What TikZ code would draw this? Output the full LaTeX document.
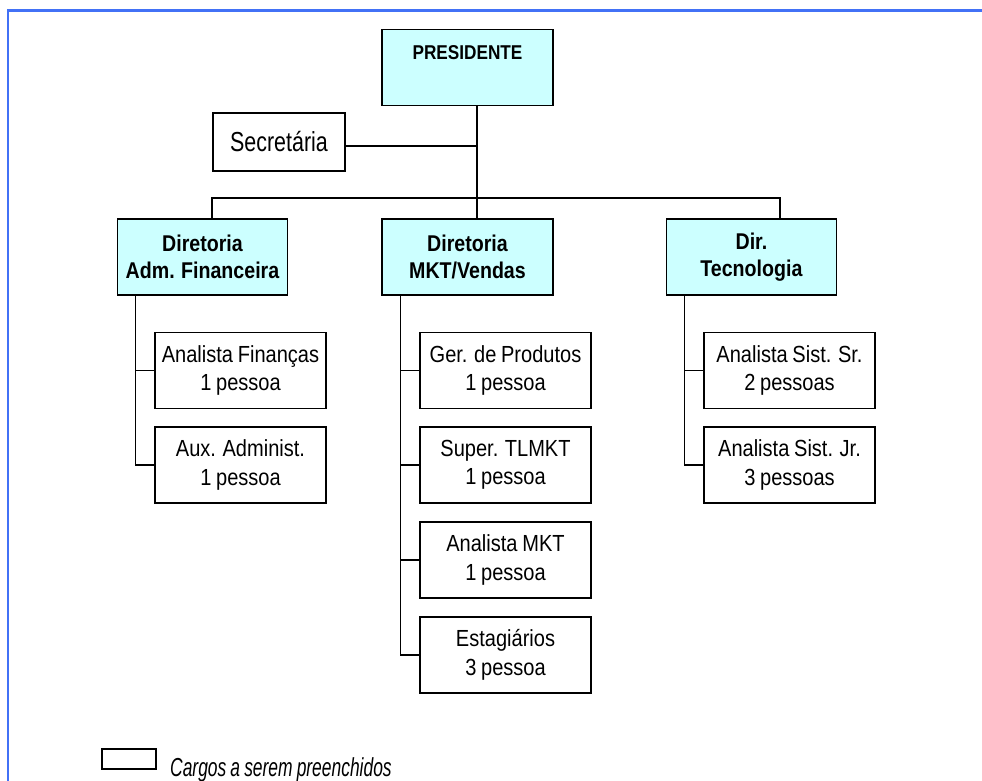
\documentclass[tikz,border=0pt]{standalone}
\usepackage{fontspec}
\setmainfont{Liberation Sans}[FakeStretch=0.86, WordSpace=0.85]
\newfontfamily\secfont{Liberation Sans}[FakeStretch=0.78, WordSpace=0.85]
\newfontfamily\legfont{Liberation Sans}[FakeStretch=0.67, WordSpace=0.85]
\usetikzlibrary{calc}
\definecolor{cyanfill}{RGB}{204,255,255}
\definecolor{frameblue}{RGB}{66,113,246}
\tikzset{
  dirbox/.style={draw, line width=1.5pt, fill=cyanfill, minimum width=171pt, minimum height=76pt,
    inner sep=0pt, align=center, font=\fontsize{22.8}{27.6}\selectfont\bfseries},
  subbox/.style={draw, line width=1.2pt, fill=white, minimum width=171pt, minimum height=76pt,
    inner sep=0pt, align=center, font=\fontsize{23.3}{28.4}\selectfont},
  conn/.style={line width=1.2pt},
}
\begin{document}
\begin{tikzpicture}[x=1pt,y=-1pt]
\useasboundingbox (0,0) rectangle (982,780);
\clip (0,0) rectangle (982,780);
% frame
\draw[frameblue, line width=2.5pt] (7.8,790) -- (7.8,10.5) -- (990,10.5);
% top
\node[dirbox, minimum height=76.4pt,
  label={[anchor=north, yshift=-13pt, font=\fontsize{20}{24}\selectfont\bfseries]north:PRESIDENTE}]
  (pres) at (467.5,67.5) {};
\node[subbox, minimum width=132pt, minimum height=58pt, font=\fontsize{27.5}{32}\secfont] (sec) at (279,142) {Secret\'aria};
% directors
\node[dirbox, minimum width=170pt] (dir1) at (202.5,257) {Diretoria\\Adm. Financeira};
\node[dirbox] (dir2) at (467.5,257) {Diretoria\\MKT/Vendas};
\node[dirbox, minimum width=170pt] (dir3) at (751.4,257) {Dir.\\Tecnologia};
% subs left
\node[subbox] (af) at (240.5,370.5) {Analista Finan\c{c}as\\1 pessoa};
\node[subbox] (aux) at (240.5,465) {Aux. Administ.\\1 pessoa};
% subs middle
\node[subbox] (ger) at (505.5,370.5) {Ger. de Produtos\\1 pessoa};
\node[subbox] (sup) at (505.5,465) {Super. TLMKT\\1 pessoa};
\node[subbox] (amkt) at (505.5,560) {Analista MKT\\1 pessoa};
\node[subbox] (est) at (505.5,655) {Estagi\'arios\\3 pessoa};
% subs right
\node[subbox] (ass) at (789.5,370.5) {Analista Sist. Sr.\\2 pessoas};
\node[subbox] (asj) at (789.5,465) {Analista Sist. Jr.\\3 pessoas};
% connectors top
\coordinate (bus) at (477,198);
\coordinate (busL) at (212,198);
\coordinate (busR) at (780,198);
\draw[conn] (pres.south -| bus) -- (bus);
\draw[conn] ($(sec.east)+(0,4)$) -- ($(sec.east -| bus)+(0,4)$);
\draw[conn] (busL |- dir1.north) -- (busL) -- (busR) -- (busR |- dir3.north);
\draw[conn] (bus) -- (bus |- dir2.north);
% trunks
\coordinate (t1) at ($(dir1.south west)+(18.5,0)$);
\coordinate (t2) at ($(dir2.south west)+(19,0)$);
\coordinate (t3) at ($(dir3.south west)+(18.6,0)$);
\draw[conn] (t1) |- (aux.west);
\draw[conn] (af.west) -- (af.west -| t1);
\draw[conn] (t2) |- (est.west);
\draw[conn] (ger.west) -- (ger.west -| t2);
\draw[conn] (sup.west) -- (sup.west -| t2);
\draw[conn] (amkt.west) -- (amkt.west -| t2);
\draw[conn] (t3) |- (asj.west);
\draw[conn] (ass.west) -- (ass.west -| t3);
% legend
\node[draw, line width=1.2pt, minimum width=54pt, minimum height=20pt, inner sep=0pt] (leg) at (129,759) {};
\node[anchor=base west, inner sep=0pt, font=\fontsize{26}{30}\legfont\itshape] (legtxt) at (170,776) {Cargos a serem preenchidos};
\end{tikzpicture}
\end{document}
